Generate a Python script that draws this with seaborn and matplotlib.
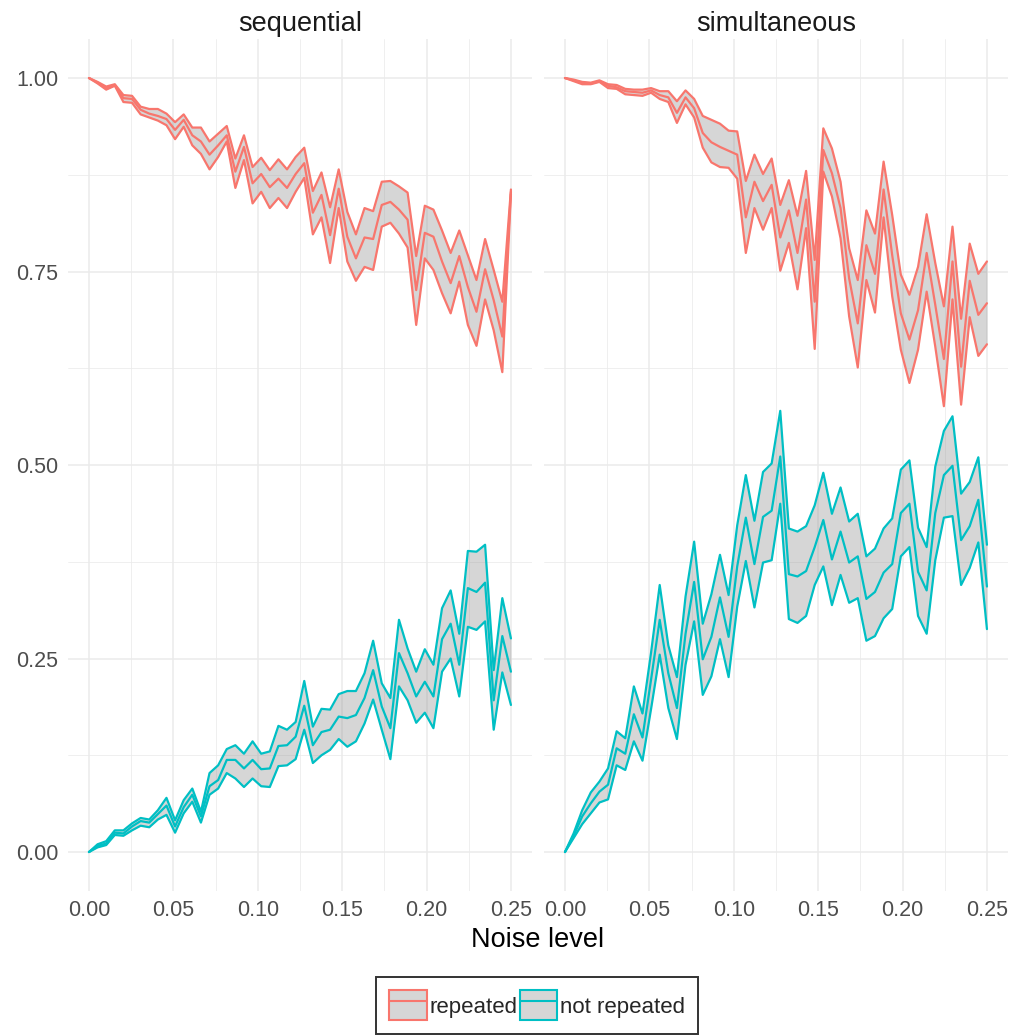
import numpy as np
import pandas as pd
import matplotlib
matplotlib.use("Agg")
import matplotlib.pyplot as plt
import seaborn as sns
from matplotlib.patches import Patch
from matplotlib.lines import Line2D
from matplotlib.ticker import MultipleLocator, FormatStrFormatter

# -------------------------------
# 1. DATA
# -------------------------------
noise_levels = np.linspace(0, 0.25, 50)
modes = ["sequential", "simultaneous"]
groups = ["repeated", "not repeated"]

seq_rep_mean = [1.0, 0.994, 0.987, 0.991, 0.974, 0.973, 0.959, 0.954, 0.951, 0.947,
                0.933, 0.946, 0.926, 0.918, 0.901, 0.913, 0.926, 0.879, 0.911, 0.864,
                0.876, 0.859, 0.870, 0.858, 0.876, 0.890, 0.826, 0.849, 0.797, 0.857,
                0.795, 0.767, 0.794, 0.792, 0.836, 0.840, 0.830, 0.817, 0.726, 0.800,
                0.795, 0.763, 0.735, 0.770, 0.730, 0.698, 0.753, 0.713, 0.666, 0.853]
seq_rep_hi = [1.0, 0.995, 0.989, 0.992, 0.978, 0.977, 0.963, 0.960, 0.960, 0.954,
              0.943, 0.953, 0.936, 0.936, 0.918, 0.928, 0.938, 0.896, 0.926, 0.885,
              0.897, 0.881, 0.895, 0.882, 0.898, 0.910, 0.854, 0.878, 0.833, 0.882,
              0.827, 0.798, 0.832, 0.828, 0.866, 0.867, 0.860, 0.852, 0.770, 0.835,
              0.830, 0.803, 0.774, 0.803, 0.771, 0.739, 0.792, 0.752, 0.711, 0.856]
seq_rep_lo = [1.0, 0.993, 0.985, 0.990, 0.969, 0.968, 0.953, 0.949, 0.945, 0.939,
              0.921, 0.937, 0.913, 0.902, 0.882, 0.898, 0.918, 0.858, 0.894, 0.838,
              0.853, 0.832, 0.845, 0.832, 0.853, 0.871, 0.798, 0.820, 0.761, 0.832,
              0.763, 0.738, 0.756, 0.752, 0.808, 0.813, 0.799, 0.781, 0.681, 0.767,
              0.752, 0.722, 0.696, 0.737, 0.681, 0.654, 0.714, 0.674, 0.620, 0.850]

seq_not_mean = [0, 0.008, 0.011, 0.025, 0.024, 0.033, 0.040, 0.038, 0.049, 0.060,
                0.033, 0.058, 0.074, 0.046, 0.085, 0.093, 0.119, 0.119, 0.108, 0.119,
                0.107, 0.108, 0.137, 0.138, 0.149, 0.189, 0.138, 0.155, 0.158, 0.175,
                0.173, 0.177, 0.199, 0.235, 0.188, 0.160, 0.257, 0.231, 0.201, 0.220,
                0.201, 0.275, 0.295, 0.242, 0.341, 0.336, 0.348, 0.196, 0.279, 0.233]
seq_not_hi = [0, 0.010, 0.014, 0.028, 0.028, 0.037, 0.044, 0.042, 0.054, 0.070,
              0.041, 0.067, 0.082, 0.052, 0.102, 0.112, 0.133, 0.138, 0.127, 0.143,
              0.127, 0.130, 0.163, 0.158, 0.168, 0.221, 0.162, 0.185, 0.184, 0.204,
              0.208, 0.208, 0.231, 0.273, 0.218, 0.199, 0.300, 0.263, 0.233, 0.262,
              0.242, 0.315, 0.338, 0.282, 0.389, 0.388, 0.397, 0.235, 0.328, 0.276]
seq_not_lo = [0, 0.006, 0.009, 0.022, 0.021, 0.028, 0.034, 0.032, 0.042, 0.048,
              0.025, 0.050, 0.065, 0.038, 0.074, 0.082, 0.102, 0.095, 0.084, 0.095,
              0.085, 0.084, 0.111, 0.112, 0.120, 0.158, 0.115, 0.125, 0.132, 0.146,
              0.136, 0.143, 0.166, 0.197, 0.158, 0.120, 0.214, 0.196, 0.167, 0.180,
              0.160, 0.233, 0.250, 0.201, 0.291, 0.287, 0.298, 0.158, 0.232, 0.190]

sim_rep_mean = [1.0, 0.997, 0.994, 0.993, 0.996, 0.990, 0.988, 0.983, 0.982, 0.981,
                0.984, 0.978, 0.975, 0.955, 0.975, 0.961, 0.929, 0.917, 0.911, 0.906,
                0.901, 0.820, 0.866, 0.841, 0.862, 0.794, 0.829, 0.774, 0.843, 0.711,
                0.907, 0.877, 0.832, 0.741, 0.683, 0.784, 0.747, 0.856, 0.771, 0.696,
                0.662, 0.700, 0.774, 0.707, 0.637, 0.763, 0.627, 0.738, 0.694, 0.709]
sim_rep_hi = [1.0, 0.998, 0.995, 0.994, 0.997, 0.992, 0.991, 0.986, 0.985, 0.985,
              0.987, 0.983, 0.983, 0.970, 0.984, 0.973, 0.951, 0.946, 0.941, 0.932,
              0.931, 0.867, 0.901, 0.876, 0.896, 0.836, 0.868, 0.822, 0.880, 0.765,
              0.935, 0.909, 0.866, 0.780, 0.739, 0.829, 0.799, 0.892, 0.823, 0.746,
              0.720, 0.756, 0.824, 0.761, 0.705, 0.808, 0.689, 0.786, 0.747, 0.763]
sim_rep_lo = [1.0, 0.996, 0.992, 0.992, 0.995, 0.987, 0.986, 0.979, 0.978, 0.977,
              0.981, 0.973, 0.969, 0.942, 0.966, 0.949, 0.910, 0.891, 0.885, 0.884,
              0.870, 0.774, 0.832, 0.804, 0.832, 0.751, 0.787, 0.727, 0.806, 0.650,
              0.879, 0.847, 0.793, 0.692, 0.626, 0.739, 0.697, 0.820, 0.718, 0.649,
              0.606, 0.649, 0.724, 0.653, 0.576, 0.714, 0.578, 0.691, 0.641, 0.656]

sim_not_mean = [0, 0.021, 0.046, 0.063, 0.078, 0.087, 0.134, 0.127, 0.178, 0.148,
                0.223, 0.300, 0.231, 0.186, 0.282, 0.349, 0.249, 0.278, 0.329, 0.278,
                0.369, 0.432, 0.372, 0.433, 0.441, 0.511, 0.359, 0.356, 0.363, 0.394,
                0.429, 0.378, 0.414, 0.374, 0.382, 0.327, 0.336, 0.361, 0.372, 0.438,
                0.450, 0.362, 0.338, 0.438, 0.487, 0.499, 0.403, 0.421, 0.455, 0.343]
sim_not_hi = [0, 0.024, 0.054, 0.077, 0.091, 0.108, 0.156, 0.147, 0.214, 0.179,
              0.258, 0.345, 0.267, 0.226, 0.330, 0.401, 0.295, 0.333, 0.384, 0.332,
              0.422, 0.487, 0.428, 0.491, 0.502, 0.570, 0.418, 0.414, 0.421, 0.448,
              0.490, 0.437, 0.471, 0.427, 0.437, 0.382, 0.392, 0.418, 0.431, 0.494,
              0.506, 0.419, 0.394, 0.498, 0.544, 0.563, 0.463, 0.478, 0.510, 0.397]
sim_not_lo = [0, 0.018, 0.036, 0.050, 0.064, 0.068, 0.112, 0.106, 0.143, 0.118,
              0.185, 0.255, 0.186, 0.146, 0.242, 0.298, 0.203, 0.227, 0.275, 0.226,
              0.317, 0.376, 0.316, 0.374, 0.377, 0.450, 0.301, 0.296, 0.305, 0.345,
              0.369, 0.319, 0.358, 0.322, 0.328, 0.273, 0.279, 0.302, 0.314, 0.382,
              0.394, 0.305, 0.282, 0.377, 0.432, 0.434, 0.345, 0.367, 0.400, 0.288]

series = {
    ("sequential", "repeated"): (seq_rep_lo, seq_rep_mean, seq_rep_hi),
    ("sequential", "not repeated"): (seq_not_lo, seq_not_mean, seq_not_hi),
    ("simultaneous", "repeated"): (sim_rep_lo, sim_rep_mean, sim_rep_hi),
    ("simultaneous", "not repeated"): (sim_not_lo, sim_not_mean, sim_not_hi),
}

rows = []
for (mode, grp), (lo, mean, hi) in series.items():
    for stat, vals in zip(["lo", "mean", "hi"], [lo, mean, hi]):
        for x, v in zip(noise_levels, vals):
            rows.append({"mode": mode, "group": grp, "stat": stat, "noise": x, "value": v})
df = pd.DataFrame(rows)

palette = {"repeated": "#F8766D", "not repeated": "#00BFC4"}

# -------------------------------
# 2. PLOT
# -------------------------------
sns.set_theme(style="white")
plt.rcParams['font.family'] = ['Liberation Sans', 'DejaVu Sans']

fig = plt.figure(figsize=(10.13, 10.35), dpi=100)
axes = [fig.add_axes([0.0670, 0.1394, 0.4582, 0.8226]),
        fig.add_axes([0.5369, 0.1394, 0.4582, 0.8226])]

for ax, mode in zip(axes, modes):
    sub = df[df["mode"] == mode]
    for grp in groups:
        lo, mean, hi = series[(mode, grp)]
        ax.fill_between(noise_levels, lo, hi, color="#999999", alpha=0.4, lw=0, zorder=1)
    sns.lineplot(data=sub, x="noise", y="value", hue="group", units="stat",
                 estimator=None, palette=palette, hue_order=groups,
                 lw=1.6, legend=False, ax=ax, zorder=2)

    ax.set_xlim(-0.0125, 0.2625)
    ax.set_ylim(-0.05, 1.05)
    ax.xaxis.set_major_locator(MultipleLocator(0.05))
    ax.xaxis.set_minor_locator(MultipleLocator(0.025))
    ax.yaxis.set_major_locator(MultipleLocator(0.25))
    ax.yaxis.set_minor_locator(MultipleLocator(0.125))
    ax.xaxis.set_major_formatter(FormatStrFormatter("%.2f"))
    ax.yaxis.set_major_formatter(FormatStrFormatter("%.2f"))
    ax.grid(which="major", color="#EBEBEB", lw=1.1)
    ax.grid(which="minor", color="#EBEBEB", lw=0.55)
    ax.set_axisbelow(True)
    for s in ax.spines.values():
        s.set_visible(False)
    ax.tick_params(which="both", length=0, labelsize=15.5, colors="#4D4D4D", pad=7)
    ax.set_xlabel("")
    ax.set_ylabel("")
    ax.set_title(mode, fontsize=19.5, color="#1A1A1A", pad=6)

axes[1].tick_params(labelleft=False)

fig.text(0.531, 0.0918, "Noise level", fontsize=19.5, ha="center", va="center", color="black")

handles = [(Patch(facecolor="#D6D6D6", edgecolor=palette[g], lw=1.5),
            Line2D([], [], color=palette[g], lw=1.5)) for g in groups]
leg = fig.legend(handles, groups, loc="upper center", bbox_to_anchor=(0.53, 0.056),
                 ncol=2, frameon=True, fancybox=False, edgecolor="black",
                 handlelength=1.7, handleheight=1.7, handletextpad=0.1,
                 columnspacing=0.1, fontsize=16, borderpad=0.6, borderaxespad=0)
leg.get_frame().set_linewidth(1.4)

plt.savefig("out.png", dpi=100)
